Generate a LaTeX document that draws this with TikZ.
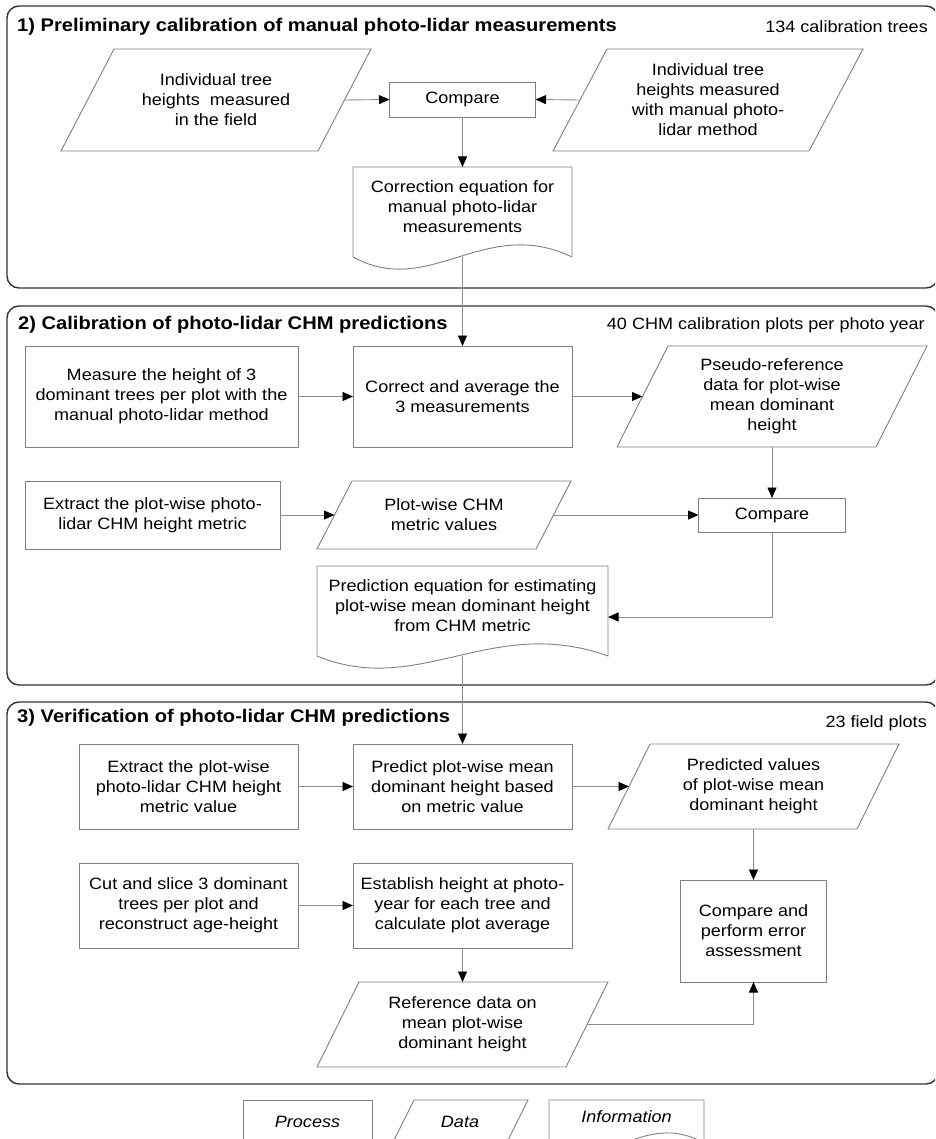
\documentclass[tikz,border=0pt]{standalone}
\usepackage{fontspec}
\setmainfont{Liberation Sans}[FakeStretch=1.1]
\usetikzlibrary{arrows.meta,calc}
\definecolor{boxgray}{HTML}{808080}
\definecolor{linegray}{HTML}{8C8C8C}
\definecolor{panelgray}{HTML}{333333}
\newcommand\myNodeFont{\fontsize{16.4}{20}\selectfont}
\newcommand\myTitleFont{\fontsize{18.3}{20}\selectfont\bfseries}
\newcommand\datashape[2]{\draw[boxline] ([xshift=#2]#1.north west) -- (#1.north east) -- ([xshift=-#2]#1.south east) -- (#1.south west) -- cycle;}
\newcommand\docshape[3]{%
  \draw[boxline] ([yshift=-10pt]#1.south west) -- (#1.north west) -- (#1.north east) -- ([yshift=-10pt]#1.south east)
   .. controls ($([yshift=-10pt]#1.south west)!0.6!([yshift=-10pt]#1.south east)+(0,-#2)$)
   and ($([yshift=-10pt]#1.south west)!0.35!([yshift=-10pt]#1.south east)+(0,#2)$)
   .. ([yshift=-10pt]#1.south west);}
\tikzset{
  nodebase/.style={inner sep=0pt, outer sep=0pt, align=center, font=\myNodeFont},
  proc/.style={nodebase, draw=boxgray, line width=0.9pt},
  datan/.style={nodebase},
  docn/.style={nodebase},
  boxline/.style={draw=boxgray, line width=0.9pt},
  conn/.style={draw=linegray, line width=0.9pt, -{Triangle[length=10.5pt,width=9pt,color=black]}},
  panel/.style={draw=panelgray, line width=1.4pt, rounded corners=12pt},
  ttl/.style={inner sep=0pt, font=\myTitleFont},
  cnt/.style={inner sep=0pt, font=\myNodeFont},
}
\begin{document}
\begin{tikzpicture}[x=1pt,y=-1pt]
\useasboundingbox (0,0) rectangle (935,1139);
\fill[white] (0,0) rectangle (935,1139);
\clip (0,0) rectangle (935,1139);
% panels
\draw[panel] (7,6) rectangle (938,288);
\draw[panel] (7,306) rectangle (938,685);
\draw[panel] (7,702) rectangle (938,1084);
% titles
\node[ttl, anchor=west] (t1) at (17,27) {1) Preliminary calibration of manual photo-lidar measurements};
\node[cnt, anchor=east] (c1) at (928,27) {134 calibration trees};
\node[ttl, anchor=west] (t2) at (18,325) {2) Calibration of photo-lidar CHM predictions};
\node[cnt, anchor=east] (c2) at (925,325) {40 CHM calibration plots per photo year};
\node[ttl, anchor=west] (t3) at (17,718) {3) Verification of photo-lidar CHM predictions};
\node[cnt, anchor=east] (c3) at (927,723) {23 field plots};
% panel 1
\node[datan, minimum width=310pt, minimum height=102pt] (p1L) at (216,100) {Individual tree\\heights\ \ measured\\in the field};
\datashape{p1L}{53pt}
\node[proc, minimum width=146pt, minimum height=35pt] (p1C) at (462.5,99.5) {Compare};
\node[datan, minimum width=310pt, minimum height=102pt] (p1R) at (708,100) {Individual tree\\heights measured\\with manual photo-\\lidar method};
\datashape{p1R}{54pt}
\node[docn, minimum width=219pt, minimum height=80pt] (p1D) at (462.5,207) {Correction equation for\\manual photo-lidar\\measurements};
\docshape{p1D}{42}{}
% panel 2
\node[proc, minimum width=273pt, minimum height=101pt] (p2A) at (161.5,396.5) {Measure the height of 3\\dominant trees per plot with the\\manual photo-lidar method};
\node[proc, minimum width=219pt, minimum height=101pt] (p2B) at (462.5,396.5) {Correct and average the\\3 measurements};
\node[datan, minimum width=310pt, minimum height=101pt] (p2C) at (772,396.5) {Pseudo-reference\\data for plot-wise\\mean dominant\\height};
\datashape{p2C}{51pt}
\node[proc, minimum width=255pt, minimum height=68pt] (p2D) at (152.5,515) {Extract the plot-wise photo-\\lidar CHM height metric};
\node[datan, minimum width=254pt, minimum height=68pt] (p2E) at (444,515) {Plot-wise CHM\\metric values};
\datashape{p2E}{35pt}
\node[proc, minimum width=147pt, minimum height=34pt] (p2F) at (772,515) {Compare};
\node[docn, minimum width=291pt, minimum height=80pt] (p2G) at (462.5,606) {Prediction equation for estimating\\plot-wise mean dominant height\\from CHM metric};
\docshape{p2G}{42}{}
% panel 3
\node[proc, minimum width=219pt, minimum height=85pt] (p3A) at (188.5,786.5) {Extract the plot-wise\\photo-lidar CHM height\\metric value};
\node[proc, minimum width=219pt, minimum height=85pt] (p3B) at (462.5,786.5) {Predict plot-wise mean\\dominant height based\\on metric value};
\node[datan, minimum width=291pt, minimum height=85pt] (p3C) at (753.5,786.5) {Predicted values\\of plot-wise mean\\dominant height};
\datashape{p3C}{42pt}
\node[proc, minimum width=219pt, minimum height=85pt] (p3D) at (188.5,905.5) {Cut and slice 3 dominant\\trees per plot and\\reconstruct age-height};
\node[proc, minimum width=219pt, minimum height=85pt] (p3E) at (462.5,905.5) {Establish height at photo-\\year for each tree and\\calculate plot average};
\node[proc, minimum width=146pt, minimum height=102pt] (p3F) at (753.5,931) {Compare and\\perform error\\assessment};
\node[datan, minimum width=291pt, minimum height=85pt] (p3G) at (462.5,1024.5) {Reference data on\\mean plot-wise\\dominant height};
\datashape{p3G}{42pt}
% legend
\node[proc, minimum width=129pt, minimum height=44pt] (lgP) at (307.5,1122) {\itshape Process};
\node[datan, minimum width=136pt, minimum height=44pt] (lgD) at (460,1122) {\itshape Data};
\datashape{lgD}{22pt}
\node[docn, minimum width=155pt, minimum height=33pt] (lgI) at (626.5,1116.5) {\itshape Information};
\docshape{lgI}{35}{}
% connectors
\draw[conn] ([xshift=-26.5pt]p1L.east) -- (p1C.west);
\draw[conn] ([xshift=27pt]p1R.west) -- (p1C.east);
\draw[conn] (p1C.south) -- (p1D.north);
\draw[conn] ([yshift=-10pt]p1D.south) -- (p2B.north);
\draw[conn] (p2A.east) -- (p2B.west);
\draw[conn] (p2B.east) -- ([xshift=25.5pt]p2C.west);
\draw[conn] (p2C.south) -- (p2F.north);
\draw[conn] (p2D.east) -- ([xshift=17.5pt]p2E.west);
\draw[conn] ([xshift=-17.5pt]p2E.east) -- (p2F.west);
\draw[conn] (p2F.south) |- ([yshift=-11pt]p2G.east);
\draw[conn] ([yshift=-10pt]p2G.south) -- (p3B.north);
\draw[conn] (p3A.east) -- (p3B.west);
\draw[conn] (p3B.east) -- ([xshift=21pt]p3C.west);
\draw[conn] (p3C.south) -- (p3F.north);
\draw[conn] (p3D.east) -- (p3E.west);
\draw[conn] (p3E.south) -- (p3G.north);
\draw[conn] ([xshift=-21pt]p3G.east) -| (p3F.south);
\end{tikzpicture}
\end{document}
